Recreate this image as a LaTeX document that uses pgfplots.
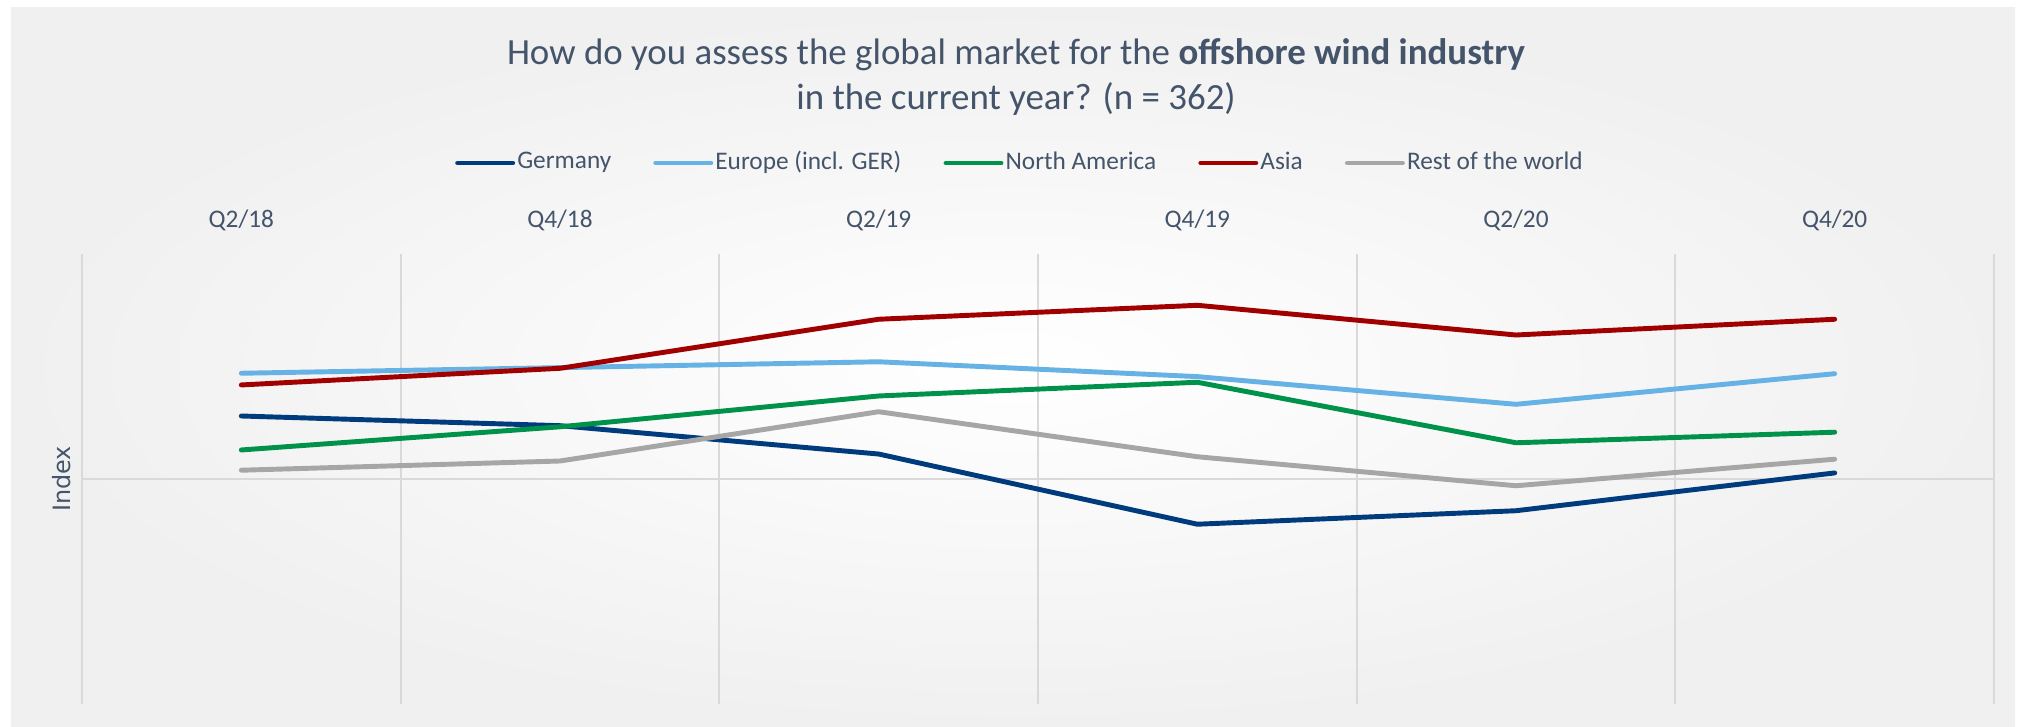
\documentclass[border=0pt]{standalone}
\usepackage{pgfplots}
\pgfplotsset{compat=1.18}
\usepackage{fontspec}
\setmainfont{Carlito}
\newfontfamily\idxfont{DejaVu Sans}

\definecolor{txt}{HTML}{44546A}
\definecolor{cGer}{HTML}{003B7E}
\definecolor{cEur}{HTML}{66B2E4}
\definecolor{cNA}{HTML}{00924A}
\definecolor{cAsia}{HTML}{A00000}
\definecolor{cRest}{HTML}{A6A6A6}
\definecolor{gridc}{HTML}{D9D9D9}
\definecolor{bgc}{HTML}{F0F0F0}

\begin{document}
\begin{tikzpicture}
% 1 px of the reference = 0.01 cm, origin at lower left of the plot area
\useasboundingbox (-0.82,-0.23) rectangle (19.43,7.04);
\fill[white] (-0.82,-0.23) rectangle (19.43,7.04);
\shade[inner color=white, outer color=bgc] (-0.71,-0.23) rectangle (19.33,6.96);

\node[anchor=base, text=txt, font=\fontsize{10.5}{12.8}\selectfont] at (9.34,6.40)
  {How do you assess the global market for the \textbf{offshore wind industry}};
\node[anchor=base, text=txt, font=\fontsize{10.5}{12.8}\selectfont] at (9.34,5.95)
  {in the current year? (n = 362)};

\begin{axis}[
    at={(0,0)}, anchor=south west,
    width=19.12cm, height=4.5cm, scale only axis,
    xmin=-0.5, xmax=5.5, ymin=-100, ymax=100,
    axis line style={draw=none},
    major tick length=0, minor tick length=0,
    xtick={0,...,5},
    xticklabels={Q2/18,Q4/18,Q2/19,Q4/19,Q2/20,Q4/20},
    xticklabel pos=top,
    xticklabel style={font=\fontsize{7.2}{8}\selectfont, text=txt, anchor=base, yshift=0.27cm},
    minor xtick={-0.5,0.5,...,5.5},
    xminorgrids,
    minor grid style={gridc, line width=0.5pt},
    ytick={0}, yticklabels={},
    ymajorgrids,
    major grid style={gridc, line width=0.5pt},
    ylabel={Index},
    ylabel style={at={(axis description cs:-0.0058,0.5)}, anchor=base,
      font=\idxfont\fontsize{6.8}{8}\selectfont, text=txt},
    every axis plot/.append style={line width=1.4pt, line cap=round, line join=round},
    legend columns=5,
    legend style={draw=none, fill=none, at={(axis description cs:0.4906,1.2022)}, anchor=center,
      font=\fontsize{7.2}{8}\selectfont, text=txt,
      nodes={inner sep=0.6pt},
      /tikz/every even column/.append style={column sep=0.4cm}},
    legend image code/.code={\draw[#1, line width=1.4pt, line cap=round] (0cm,0cm) -- (0.55cm,0cm);},
]
\addplot[cGer] coordinates {(0,28) (1,23.7) (2,11.1) (3,-20.1) (4,-14.1) (5,2.7)};
\addlegendentry{Germany}
\addplot[cEur] coordinates {(0,47) (1,49.5) (2,52.1) (3,45.5) (4,33.2) (5,46.8)};
\addlegendentry{Europe (incl. GER)}
\addplot[cNA] coordinates {(0,12.9) (1,23.2) (2,36.9) (3,43) (4,16.1) (5,20.8)};
\addlegendentry{North America}
\addplot[cAsia] coordinates {(0,41.8) (1,49.2) (2,71) (3,77.2) (4,64) (5,71)};
\addlegendentry{Asia}
\addplot[cRest] coordinates {(0,3.9) (1,8) (2,29.9) (3,9.9) (4,-3) (5,8.8)};
\addlegendentry{Rest of the world}
\end{axis}
\end{tikzpicture}
\end{document}
